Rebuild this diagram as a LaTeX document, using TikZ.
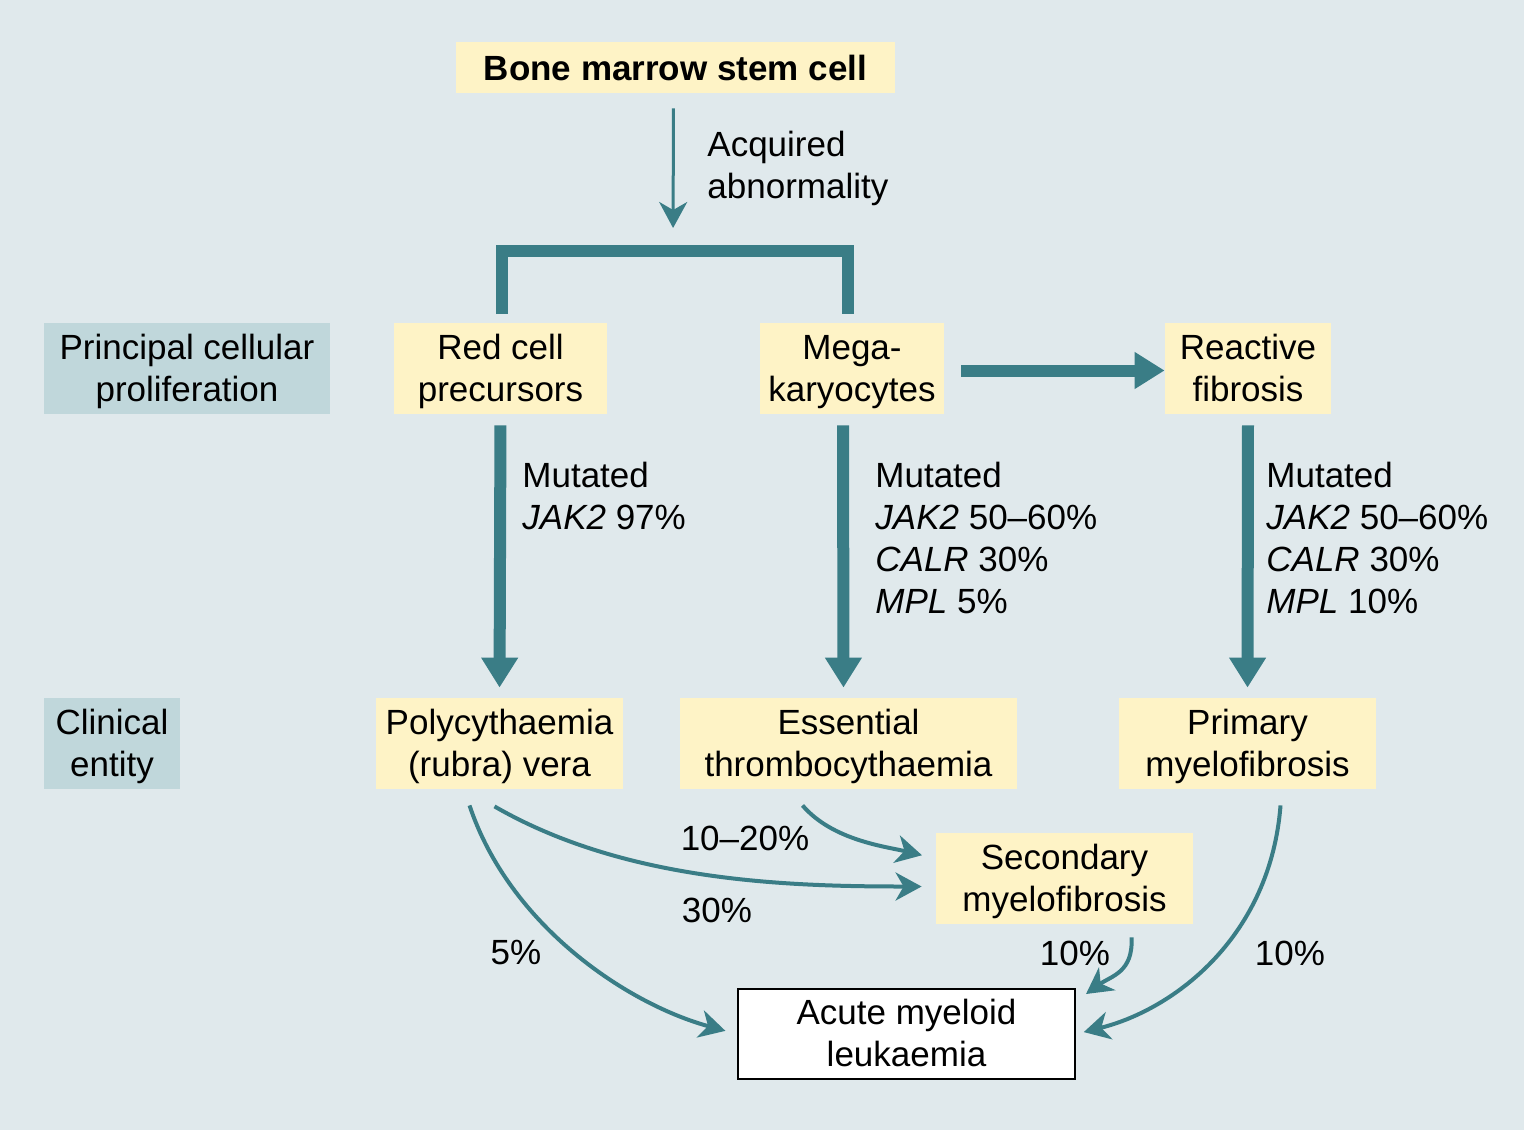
\documentclass[tikz,border=0pt]{standalone}
\usepackage{fontspec}
\setmainfont{Liberation Sans}
\usetikzlibrary{arrows.meta}
\definecolor{bgc}{HTML}{E0E9EC}
\definecolor{yboxc}{HTML}{FEF3C6}
\definecolor{gboxc}{HTML}{C0D7DB}
\definecolor{tealc}{HTML}{3A7D86}
\newcommand\tl{\rule{0pt}{15.5pt}}
\newcommand\bl{\rule[-4pt]{0pt}{4pt}}
\begin{document}
\begin{tikzpicture}[x=0.5pt,y=-0.5pt,
  font=\fontsize{17.5}{21}\selectfont,
  sz/.style 2 args={minimum width=#1*0.5pt, minimum height=#2*0.5pt},
  ybox/.style={fill=yboxc, inner sep=0pt, align=center},
  gbox/.style={fill=gboxc, inner sep=0pt, align=center},
  wbox/.style={fill=white, draw=black, line width=1pt, inner sep=0pt, align=center},
  lbl/.style={inner sep=0pt, align=left, anchor=north west},
  pct/.style={inner sep=0pt},
  thickarrow/.style={draw=tealc, line width=6pt, -{Triangle[length=15pt,width=17.5pt]}},
  thinarrow/.style={draw=tealc, line width=1.5pt, -{Stealth[length=13pt,width=14pt,inset=4pt]}},
  curvearrow/.style={draw=tealc, line width=2pt, -{Stealth[length=13pt,width=14pt,inset=4pt]}},
  bracket/.style={draw=tealc, line width=6pt, line join=miter}
]
\fill[bgc] (0,0) rectangle (1524,1130);
\useasboundingbox (0,0) rectangle (1524,1130);

% boxes
\node[ybox, sz={439}{51}, font=\fontsize{17.5}{21}\selectfont\bfseries] (bm) at (675.5,67.5) {Bone marrow stem cell};
\node[gbox, sz={286}{91}] (pcp) at (187,368.5) {\tl Principal cellular\\proliferation\bl};
\node[ybox, sz={213}{91}] (rc) at (500.5,368.5) {\tl Red cell\\precursors\bl};
\node[ybox, sz={184}{91}] (mk) at (852,368.5) {\tl Mega-\\karyocytes\bl};
\node[ybox, sz={166}{91}] (rf) at (1248,368.5) {\tl Reactive\\fibrosis\bl};
\node[gbox, sz={136}{91}] (ce) at (112,743.5) {\tl Clinical\\entity\bl};
\node[ybox, sz={247}{91}] (pv) at (499.5,743.5) {\tl Polycythaemia\\(rubra) vera\bl};
\node[ybox, sz={337}{91}] (et) at (848.5,743.5) {\tl Essential\\thrombocythaemia\bl};
\node[ybox, sz={257}{91}] (pf) at (1247.5,743.5) {\tl Primary\\myelofibrosis\bl};
\node[ybox, sz={257}{91}] (sm) at (1064.5,878.5) {\tl Secondary\\myelofibrosis\bl};
\node[wbox, sz={337}{90}] (aml) at (906.5,1034) {\tl Acute myeloid\\leukaemia\bl};

% bracket
\coordinate (brL) at (502,314);
\coordinate (brR) at (848,314);
\coordinate (brtop) at (675,251);
\draw[bracket] (brL) -- (brL |- brtop) -- (brR |- brtop) -- (brR);

% thin arrow
\draw[thinarrow, shorten <=7.5pt, shorten >=11.5pt] ([xshift=-1pt]bm.south) -- ([xshift=-1pt]brtop);
\node[lbl] (acq) at (707,131) {Acquired\\abnormality};

% thick arrows
\draw[thickarrow, shorten <=5.5pt, shorten >=5pt] (rc.south) -- (pv.north);
\draw[thickarrow, shorten <=5.5pt, shorten >=5pt] ([xshift=-4.5pt]mk.south) -- ([xshift=-2.5pt]et.north);
\draw[thickarrow, shorten <=5.5pt, shorten >=5pt] (rf.south) -- (pf.north);
\draw[thickarrow, shorten <=8.5pt] ([yshift=-1pt]mk.east) -- ([yshift=-1pt]rf.west);

% mutation labels
\node[lbl] (m1) at (522,462) {Mutated\\\textit{JAK2} 97\%};
\node[lbl] (m2) at (875,462) {Mutated\\\textit{JAK2} 50–60\%\\\textit{CALR} 30\%\\\textit{MPL} 5\%};
\node[lbl] (m3) at (1266,462) {Mutated\\\textit{JAK2} 50–60\%\\\textit{CALR} 30\%\\\textit{MPL} 10\%};

% curved arrows
\draw[curvearrow, shorten >=6pt] ([xshift=-15pt,yshift=-8pt]pv.south) .. controls +(40,120) and +(-110,-30) .. (aml.west);
\draw[curvearrow, shorten >=7pt] ([xshift=-2.5pt,yshift=-8.5pt]pv.south) .. controls +(130,75) and +(-150,0) .. ([yshift=-4pt]sm.west);
\draw[curvearrow, shorten >=7pt] ([xshift=-23pt,yshift=-8pt]et.south) .. controls +(30,35) and +(-50,-12) .. ([yshift=10pt]sm.west);
\draw[curvearrow] ([xshift=33.5pt,yshift=-6.5pt]sm.south) .. controls +(2,35) and +(25,-18) .. ([xshift=5pt,yshift=-3pt]aml.north east);
\draw[curvearrow, shorten >=4pt] ([xshift=16.5pt,yshift=-8pt]pf.south) .. controls +(-10,130) and +(100,-25) .. (aml.east);

% percentages
\node[pct] (p1) at (745,838) {10–20\%};
\node[pct] (p2) at (717,910) {30\%};
\node[pct] (p3) at (516,953) {5\%};
\node[pct] (p4) at (1075,953) {10\%};
\node[pct] (p5) at (1290,953) {10\%};
\end{tikzpicture}
\end{document}
